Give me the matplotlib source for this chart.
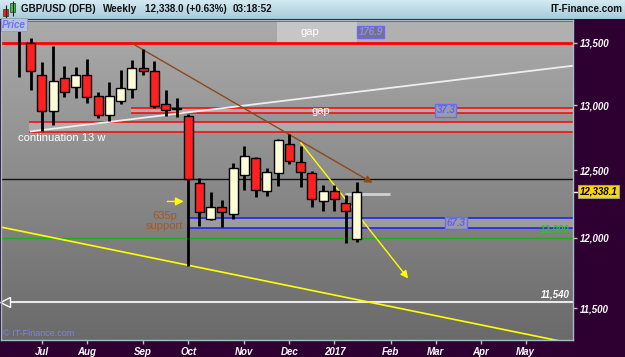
import matplotlib
matplotlib.use("Agg")
import matplotlib.pyplot as plt
import numpy as np
from matplotlib.ticker import NullLocator, FuncFormatter
from matplotlib.transforms import blended_transform_factory
from matplotlib.patches import Rectangle

plt.rcParams['font.family'] = ['Liberation Sans', 'DejaVu Sans']

# weekly candles, week 0 = 4 Jul 2016
weeks = list(range(-2, 29))
opens = [14750, 13495, 13236, 12957, 13212, 13140, 13236, 13073, 12926, 13031,
         13127, 13295, 13268, 13009, 12975, 12918, 12402, 12137, 12224, 12172,
         12461, 12590, 12345, 12478, 12695, 12564, 12475, 12271, 12345, 12253, 11988]
highs = [15020, 13535, 13343, 13476, 13308, 13300, 13367, 13100, 13185, 13281,
         13356, 13447, 13353, 13121, 13055, 12930, 12443, 12332, 12273, 12556,
         12680, 12595, 12513, 12739, 12773, 12680, 12493, 12384, 12389, 12315, 12410]
lows = [13220, 13116, 12795, 12847, 13063, 13055, 13015, 12898, 12872, 13005,
        13055, 13236, 12980, 12916, 12910, 11798, 12081, 12125, 12076, 12135,
        12347, 12299, 12308, 12381, 12544, 12369, 12224, 12197, 12197, 11960, 11971]
closes = [13680, 13268, 12957, 13193, 13103, 13236, 13063, 12921, 13075, 13135,
          13295, 13268, 12995, 12962, 12966, 12431, 12187, 12221, 12187, 12513,
          12603, 12347, 12485, 12726, 12567, 12483, 12283, 12345, 12283, 12191, 12338.1]

month_ticks = [0, 4, 9, 13, 18, 22, 26, 31, 35, 39, 43]
month_labels = ["Jul", "Aug", "Sep", "Oct", "Nov", "Dec", "2017", "Feb", "Mar", "Apr", "May"]
price_ticks = [11500, 12000, 12500, 13000, 13500]

last_price = 12338.1
gap_top = (13676.9, 13500)
gap_mid = (12977, 12940)
gap_low = (12868, 12791)
support_band = (12140, 12073)
oct_close = 12431
green_level = 12000
white_level = 11540

white_trend = ([-1.0, 47.2], [12795, 13313])
brown_trend = ([7.9, 29.6], [13500, 12393])
yellow_steep = ([22.85, 32.7], [12725, 11692])
yellow_long = ([-3.73, 47.2], [12078, 11255])

XMIN, XMAX = -3.64, 47.2
YMIN, YMAX = 11280, 13686

fig = plt.figure(figsize=(6.25, 3.57), dpi=100, facecolor='#2e0032')
rect = [1 / 625, 17 / 357, 572 / 625, 320 / 357]

# background gradient
bg = fig.add_axes(rect, zorder=0)
grad = np.linspace(0, 1, 256).reshape(-1, 1)
bg.imshow(grad, aspect='auto', extent=[0, 1, 0, 1],
          cmap=matplotlib.colors.LinearSegmentedColormap.from_list('g', ['#6a6a6a', '#ababab']),
          origin='lower')
bg.set_axis_off()

ax = fig.add_axes(rect, zorder=1)
ax.set_facecolor('none')
ax.set_yscale('log')
ax.set_xlim(XMIN, XMAX)
ax.set_ylim(YMIN, YMAX)

# gap / support boxes
ax.axhspan(gap_top[1], gap_top[0], xmin=(20.9 - XMIN) / (XMAX - XMIN),
           xmax=(28 - XMIN) / (XMAX - XMIN), color='#c6c6c6', lw=0)
ax.axhspan(gap_top[1], gap_top[0], xmin=(28 - XMIN) / (XMAX - XMIN), xmax=1,
           color='#b0b0b0', lw=0)
for lo_hi, x0, col in [(gap_mid, 7.9, 'red'), (gap_low, -1.16, 'red'), (support_band, 12.9, '#1a1aff')]:
    ax.fill_between([x0, XMAX], lo_hi[1], lo_hi[0], color='white', alpha=0.22, lw=0)
    ax.hlines(list(lo_hi), x0, XMAX, colors=col, lw=1.1)
ax.axhline(gap_top[0], color='red', lw=1.2)
ax.axhline(gap_top[1], color='red', lw=2)
ax.axhline(oct_close, color='#111111', lw=1)
ax.axhline(green_level, color='#22aa22', lw=1)
ax.axhline(white_level, color='#e8e8e8', lw=1.5)
ax.plot([XMIN + 0.35], [white_level], marker='<', ms=7, mfc='#777777', mec='white', mew=1, clip_on=False)
ax.hlines(12320, 26.9, 30.9, colors='#d0d0d0', lw=2)

# trend lines
ax.plot(*white_trend, color='#eeeeee', lw=1.3)
ax.plot(*yellow_long, color='#ffff00', lw=1.2)
ax.annotate('', xy=(brown_trend[0][1], brown_trend[1][1]), xytext=(brown_trend[0][0], brown_trend[1][0]),
            arrowprops=dict(arrowstyle='-|>', color='#8b4a1a', lw=1, mutation_scale=11))
ax.annotate('', xy=(yellow_steep[0][1], yellow_steep[1][1]), xytext=(yellow_steep[0][0], yellow_steep[1][0]),
            arrowprops=dict(arrowstyle='-|>', color='#ffff00', lw=1, mutation_scale=11))
ax.annotate('', xy=(12.85, 12265), xytext=(10.9, 12265),
            arrowprops=dict(arrowstyle='-|>', color='#ffff00', lw=1, mutation_scale=12))

# candles
for w, o, h, l, c in zip(weeks, opens, highs, lows, closes):
    ax.vlines(w, l, h, colors='black', lw=2, zorder=3)
    lo, hi = min(o, c), max(o, c)
    if hi - lo < 4:
        hi = lo + 4
    ax.bar(w, hi - lo, bottom=lo, width=0.8, color='#ff2020' if c < o else '#fdfbd8',
           edgecolor='black', lw=1, zorder=4)

# annotations
ax.text(23.8, 13590, 'gap', color='white', fontsize=8, ha='center', va='center')
ax.text(24.8, 12955, 'gap', color='white', fontsize=8, ha='center', va='center')
ax.text(-2.15, 12745, 'continuation 13 w', color='white', fontsize=8, ha='left', va='center')
ax.text(10.9, 12195, '635p\nsupport', color='#a8581f', fontsize=8, ha='center', va='top', linespacing=1.0)
box = dict(boxstyle='square,pad=0.12', facecolor='#74747e', edgecolor='#6a6aff', lw=1)
ax.text(29.2, 13588, '176.9', color='#8a8aff', fontsize=7, fontweight='bold', style='italic',
        ha='center', va='center', bbox=box)
ax.text(35.9, 12958, '37.3', color='#6060ff', fontsize=7, fontweight='bold', style='italic',
        ha='center', va='center', bbox=dict(box, facecolor='#9a9aa2'), zorder=6)
ax.text(36.8, 12106, '67.3', color='#6060ff', fontsize=7, fontweight='bold', style='italic',
        ha='center', va='center', bbox=dict(box, facecolor='#9a9aa2'), zorder=6)
ax.text(46.9, 12025, '12,000', color='#2fbf2f', fontsize=7, fontweight='bold', style='italic',
        ha='right', va='bottom')
ax.text(46.9, 11562, '11,540', color='white', fontsize=7, fontweight='bold', style='italic',
        ha='right', va='bottom')

# axes styling
ax.yaxis.tick_right()
ax.set_yticks(price_ticks)
ax.yaxis.set_minor_locator(NullLocator())
ax.yaxis.set_major_formatter(FuncFormatter(lambda v, p: f"{v:,.0f}"))
ax.set_xticks(month_ticks)
ax.set_xticklabels(month_labels)
ax.tick_params(axis='both', colors='#c0c0c0', labelcolor='white', labelsize=7, length=3, width=1, pad=2)
for lbl in ax.get_yticklabels() + ax.get_xticklabels():
    lbl.set_fontweight('bold')
    lbl.set_fontstyle('italic')
for sp in ax.spines.values():
    sp.set_color('#a8bcc4')
    sp.set_linewidth(1)

tr = blended_transform_factory(ax.transAxes, ax.transData)
ax.plot([1.0, 1.008], [last_price, last_price], color='white', lw=1, transform=tr, clip_on=False)
ax.text(1.012, last_price, '12,338.1', transform=tr, color='black', fontsize=7, fontweight='bold',
        style='italic', ha='left', va='center',
        bbox=dict(boxstyle='square,pad=0.15', facecolor='#ffd700', edgecolor='#9a9a9a', lw=0.8))

# header bar
hax = fig.add_axes([0, 1 - 19 / 357, 1, 19 / 357], zorder=5)
hgrad = np.linspace(0, 1, 64).reshape(-1, 1)
hax.imshow(hgrad, aspect='auto', extent=[0, 625, 19, 0],
           cmap=matplotlib.colors.LinearSegmentedColormap.from_list('h', ['#d4eaf2', '#a6ccda']))
hax.set_xlim(0, 625)
hax.set_ylim(19, 0)
hax.set_axis_off()
hax.axhline(18.5, color='#7ea4b4', lw=1)
hax.vlines(5.5, 5, 18, colors='#222222', lw=0.8)
hax.add_patch(Rectangle((3, 9), 5, 7, facecolor='#ee2222', edgecolor='#333333', lw=0.5))
hax.vlines(12.5, 1, 16, colors='#222222', lw=0.8)
hax.add_patch(Rectangle((10, 3), 5, 9, facecolor='#33cc33', edgecolor='#333333', lw=0.5))
hfont = dict(fontsize=7.1, fontweight='bold', color='#111111', va='center')
hax.text(21, 9.5, 'GBP/USD (DFB)', ha='left', **hfont)
hax.text(103, 9.5, 'Weekly', ha='left', **hfont)
hax.text(145, 9.5, '12,338.0 (+0.63%)', ha='left', **hfont)
hax.text(233, 9.5, '03:18:52', ha='left', **hfont)
hax.text(622, 9.5, 'IT-Finance.com', ha='right', **hfont)

# Price tag and copyright
fig.text(2 / 625, 1 - 24.5 / 357, 'Price', color='#7070ff', fontsize=7, fontweight='bold', style='italic',
         ha='left', va='center', zorder=6,
         bbox=dict(boxstyle='square,pad=0.12', facecolor='#b4c4d6', edgecolor='#8ea0b4', lw=0.6))
fig.text(3 / 625, 1 - 333 / 357, '© IT-Finance.com', color='#8080e8', fontsize=6.5, ha='left',
         va='center', zorder=6)

fig.savefig('out.png', dpi=100, facecolor=fig.get_facecolor())
